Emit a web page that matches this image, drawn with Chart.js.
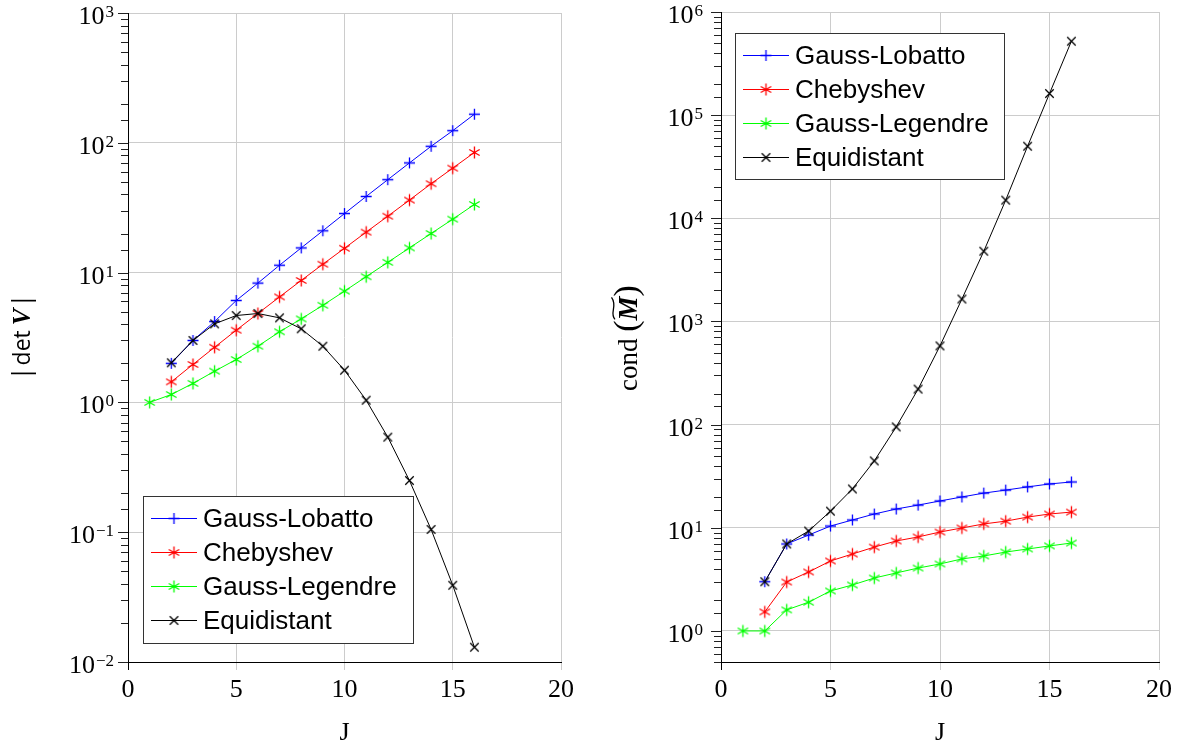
<!DOCTYPE html>
<html>
<head>
<meta charset="utf-8">
<script src="https://cdn.jsdelivr.net/npm/chart.js@4.4.1/dist/chart.umd.min.js"></script>
<style>
html, body { margin: 0; padding: 0; background: #fff; }
#wrap { position: relative; width: 1181px; height: 749px; }
.box { position: absolute; top: 0; height: 749px; }
</style>
</head>
<body>
<div id="wrap">
    <div class="box" style="left:0;width:590px"><canvas id="cDet"></canvas></div>
    <div class="box" style="left:590px;width:591px"><canvas id="cCond"></canvas></div>
</div>
<script>
// series and x values
var seriesNames = ['Gauss-Lobatto', 'Chebyshev', 'Gauss-Legendre', 'Equidistant'];
var seriesColors = ['#0000ff', '#ff0000', '#00ff00', '#000000'];
var seriesMarks = ['plus', 'asterisk', 'asterisk', 'x'];

var jFrom1 = [1, 2, 3, 4, 5, 6, 7, 8, 9, 10, 11, 12, 13, 14, 15, 16];
var jFrom2 = [2, 3, 4, 5, 6, 7, 8, 9, 10, 11, 12, 13, 14, 15, 16];

// left panel: |det V|
var detLobatto = [2.0, 3.0, 4.2, 6.1, 8.3, 11.4, 15.5, 21.0, 28.5, 38.6, 52, 70, 94, 124, 166];
var detChebyshev = [1.44, 1.96, 2.66, 3.6, 4.84, 6.5, 8.7, 11.6, 15.4, 20.5, 27.2, 36.2, 48.4, 63.8, 84.2];
var detLegendre = [1.0, 1.15, 1.4, 1.74, 2.14, 2.71, 3.5, 4.4, 5.6, 7.2, 9.3, 12.0, 15.5, 20.0, 25.8, 33.5];
var detEquidistant = [2.02, 3.0, 4.03, 4.67, 4.84, 4.48, 3.69, 2.71, 1.77, 1.04, 0.54, 0.25, 0.105, 0.039, 0.013];

// right panel: cond(M)
var condLobatto = [3.0, 6.97, 8.5, 10.4, 11.9, 13.6, 15.2, 16.6, 18.2, 19.9, 21.7, 23.2, 24.9, 26.6, 27.8];
var condChebyshev = [1.53, 2.98, 3.73, 4.77, 5.57, 6.5, 7.45, 8.15, 9.1, 9.96, 10.9, 11.6, 12.7, 13.6, 14.2];
var condLegendre = [1.0, 1.0, 1.6, 1.9, 2.44, 2.79, 3.26, 3.65, 4.07, 4.46, 4.99, 5.33, 5.82, 6.23, 6.67, 7.12];
var condEquidistant = [3.0, 6.97, 9.3, 14.5, 23.8, 44.5, 95, 221, 580, 1650, 4800, 15000, 50000, 162000, 521000];

// axes
var xTicks = [0, 5, 10, 15, 20];
var detRange = [0.01, 1000];
var condRange = [0.5, 1e6];

var GRID = '#cccccc';
var SERIF = "'Liberation Serif', 'Times New Roman', serif";
var SANS = "'Liberation Sans', Arial, sans-serif";
var TITLE_SANS = "'Open Sans', 'Liberation Sans', sans-serif";

Chart.defaults.font.family = SERIF;
Chart.defaults.color = '#000';

function isMajor(v) {
    var l = Math.log10(v);
    return Math.abs(l - Math.round(l)) < 1e-6;
}

// marks as small canvases, used as pointStyle and in the legend
function makeMark(kind, color) {
    var c = document.createElement('canvas');
    c.width = 17; c.height = 17;
    var g = c.getContext('2d');
    g.strokeStyle = color;
    g.lineWidth = 1.3;
    var r = kind == 'x' ? 6 : (kind == 'plus' ? 5.5 : 6), m = 8.5;
    var angles = kind == 'plus' ? [0, 90] : (kind == 'x' ? [45, 135] : [90, 30, 150]);
    g.beginPath();
    angles.forEach(function(a) {
        var dx = r * Math.cos(a * Math.PI / 180), dy = r * Math.sin(a * Math.PI / 180);
        g.moveTo(m - dx, m - dy);
        g.lineTo(m + dx, m + dy);
    });
    g.stroke();
    return c;
}
var marks = seriesMarks.map(function(k, i) { return makeMark(k, seriesColors[i]); });

function buildDataset(i, xs, ys) {
    return {
        label: seriesNames[i],
        data: xs.map(function(x, k) { return {x: x, y: ys[k]}; }),
        borderColor: seriesColors[i],
        backgroundColor: seriesColors[i],
        borderWidth: 1,
        pointStyle: marks[i],
        pointRadius: 5,
        tension: 0,
        fill: false,
        order: i == 3 ? 0 : 4 - i
    };
}

function drawParts(ctx, parts) {
    var w = 0;
    parts.forEach(function(p) { ctx.font = p.f; p.w = ctx.measureText(p.t).width + (p.gap || 0); w += p.w; });
    var x = -w / 2;
    parts.forEach(function(p) {
        ctx.font = p.f;
        ctx.fillText(p.t, x, 9);
        if (p.tilde) {
            var ty = -15;
            ctx.beginPath();
            ctx.lineWidth = 1.3;
            ctx.moveTo(x + 1, ty + 2);
            ctx.bezierCurveTo(x + p.w * 0.3, ty - 4, x + p.w * 0.6, ty + 5, x + p.w - 1, ty - 1.5);
            ctx.stroke();
        }
        x += p.w;
    });
}

var figDeco = {
    id: 'figDeco',
    afterDraw: function(chart, args, o) {
        var ctx = chart.ctx, a = chart.chartArea, sy = chart.scales.y;
        ctx.save();

        // y tick marks and 10^n labels
        ctx.strokeStyle = '#222';
        ctx.lineWidth = 1;
        ctx.fillStyle = '#000';
        sy.ticks.forEach(function(t) {
            var y = Math.round(sy.getPixelForValue(t.value)) + 0.5;
            var major = isMajor(t.value);
            ctx.beginPath();
            ctx.moveTo(a.left - (major ? 10 : 7), y);
            ctx.lineTo(a.left, y);
            ctx.stroke();
            if (!major)
                return;
            var e = Math.round(Math.log10(t.value));
            var es = e < 0 ? '\u2212' + (-e) : String(e);
            var xr = a.left - o.labelGap;
            ctx.textAlign = 'right';
            ctx.textBaseline = 'alphabetic';
            ctx.font = '17px ' + SERIF;
            var ew = ctx.measureText(es).width;
            ctx.fillText(es, xr, y + 3);
            ctx.font = '26px ' + SERIF;
            ctx.fillText('10', xr - ew - 1, y + 10);
        });

        // rotated y title
        ctx.save();
        ctx.translate(o.titleX, o.titleY);
        ctx.rotate(-Math.PI / 2);
        ctx.textAlign = 'left';
        ctx.textBaseline = 'alphabetic';
        ctx.strokeStyle = '#000';
        drawParts(ctx, o.title);
        ctx.restore();

        // legend box
        var L = o.legend;
        var bx = a.left + L.dx;
        var by = L.fromBottom ? a.bottom - L.dy - L.h : a.top + L.dy;
        ctx.fillStyle = '#fff';
        ctx.fillRect(bx, by, L.w, L.h);
        ctx.strokeStyle = '#333';
        ctx.lineWidth = 1;
        ctx.strokeRect(Math.round(bx) + 0.5, Math.round(by) + 0.5, L.w, L.h);
        ctx.font = '26px ' + SANS;
        ctx.textAlign = 'left';
        ctx.textBaseline = 'middle';
        seriesNames.forEach(function(name, i) {
            var ry = Math.round(by + 21.5 + i * 34.2) + 0.5;
            ctx.strokeStyle = seriesColors[i];
            ctx.beginPath();
            ctx.moveTo(bx + 8, ry);
            ctx.lineTo(bx + 54, ry);
            ctx.stroke();
            ctx.drawImage(marks[i], bx + 31 - 8.5, ry - 8.5);
            ctx.fillStyle = '#000';
            ctx.fillText(name, bx + 60, ry + 1);
        });
        ctx.restore();
    }
};

function buildOptions(range, yWidth, pad, deco) {
    return {
        responsive: true,
        maintainAspectRatio: false,
        animation: false,
        events: [],
        layout: { padding: pad },
        plugins: { legend: { display: false }, tooltip: { enabled: false }, figDeco: deco },
        scales: {
            x: {
                type: 'linear',
                min: xTicks[0],
                max: xTicks[xTicks.length - 1],
                afterFit: function(s) { s.height = 87; },
                afterBuildTicks: function(s) { s.ticks = xTicks.map(function(v) { return {value: v}; }); },
                ticks: { font: { size: 26 }, color: '#000', padding: 5, maxRotation: 0 },
                grid: {
                    color: GRID,
                    tickLength: 8,
                    tickColor: function(c) { return c.tick && c.tick.value == 0 ? '#000' : GRID; }
                },
                border: { color: '#000', width: 1 },
                title: { display: true, text: 'J', font: { size: 26 }, color: '#000', padding: 0 }
            },
            y: {
                type: 'logarithmic',
                min: range[0],
                max: range[1],
                afterFit: function(s) { s.width = yWidth; },
                ticks: { display: false, autoSkip: false },
                grid: {
                    drawTicks: false,
                    color: function(c) { return c.tick && isMajor(c.tick.value) ? GRID : 'rgba(0,0,0,0)'; }
                },
                border: { color: '#000', width: 1 }
            }
        }
    };
}

new Chart(document.getElementById('cDet'), {
    type: 'line',
    data: {
        datasets: [
            buildDataset(0, jFrom2, detLobatto),
            buildDataset(1, jFrom2, detChebyshev),
            buildDataset(2, jFrom1, detLegendre),
            buildDataset(3, jFrom2, detEquidistant)
        ]
    },
    options: buildOptions(detRange, 128, { left: 0, right: 29, top: 13, bottom: 0 }, {
        labelGap: 14,
        titleX: 21, titleY: 337,
        title: [
            { t: '|', f: '25px ' + TITLE_SANS, gap: 1 },
            { t: 'det', f: '23px ' + TITLE_SANS, gap: 5 },
            { t: 'V', f: 'bold italic 25px ' + SERIF, gap: 1 },
            { t: '|', f: '25px ' + TITLE_SANS }
        ],
        legend: { dx: 15, dy: 19, w: 270, h: 147, fromBottom: true }
    }),
    plugins: [figDeco]
});

new Chart(document.getElementById('cCond'), {
    type: 'line',
    data: {
        datasets: [
            buildDataset(0, jFrom2, condLobatto),
            buildDataset(1, jFrom2, condChebyshev),
            buildDataset(2, jFrom1, condLegendre),
            buildDataset(3, jFrom2, condEquidistant)
        ]
    },
    options: buildOptions(condRange, 131, { left: 0, right: 22, top: 12, bottom: 0 }, {
        labelGap: 18,
        titleX: 38, titleY: 338,
        title: [
            { t: 'cond ', f: '27px ' + SERIF },
            { t: '(', f: '34px ' + SERIF },
            { t: 'M', f: 'bold italic 27px ' + SERIF, tilde: true },
            { t: ')', f: '34px ' + SERIF }
        ],
        legend: { dx: 14, dy: 21, w: 269, h: 146, fromBottom: false }
    }),
    plugins: [figDeco]
});
</script>
</body>
</html>
